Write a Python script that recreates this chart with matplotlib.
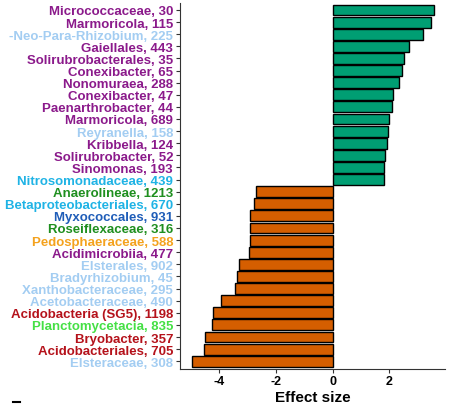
import matplotlib
matplotlib.use('Agg')
from matplotlib import pyplot as plt
from matplotlib.lines import Line2D

plt.rcParams['font.family'] = ['Liberation Sans', 'DejaVu Sans']

# taxa from top to bottom
labels = ['Micrococcaceae, 30', 'Marmoricola, 115', '-Neo-Para-Rhizobium, 225',
          'Gaiellales, 443', 'Solirubrobacterales, 35', 'Conexibacter, 65',
          'Nonomuraea, 288', 'Conexibacter, 47', 'Paenarthrobacter, 44',
          'Marmoricola, 689', 'Reyranella, 158', 'Kribbella, 124',
          'Solirubrobacter, 52', 'Sinomonas, 193', 'Nitrosomonadaceae, 439',
          'Anaerolineae, 1213', 'Betaproteobacteriales, 670', 'Myxococcales, 931',
          'Roseiflexaceae, 316', 'Pedosphaeraceae, 588', 'Acidimicrobiia, 477',
          'Elsterales, 902', 'Bradyrhizobium, 45', 'Xanthobacteraceae, 295',
          'Acetobacteraceae, 490', 'Acidobacteria (SG5), 1198', 'Planctomycetacia, 835',
          'Bryobacter, 357', 'Acidobacteriales, 705', 'Elsteraceae, 308']
effect = [3.56, 3.48, 3.19, 2.70, 2.53, 2.46, 2.33, 2.12, 2.08, 1.99, 1.94, 1.93,
          1.84, 1.82, 1.81,
          -2.72, -2.79, -2.91, -2.92, -2.93, -2.95, -3.32, -3.38, -3.46, -3.93,
          -4.21, -4.25, -4.50, -4.53, -4.96]
# phylum group of each label (sets text colour)
group = ['act', 'act', 'alpha', 'act', 'act', 'act', 'act', 'act', 'act', 'act',
         'alpha', 'act', 'act', 'act', 'beta',
         'chlor', 'beta', 'delta', 'chlor', 'verr', 'act', 'alpha', 'alpha', 'alpha',
         'alpha', 'acido', 'planc', 'acido', 'acido', 'alpha']

group_colors = {'act': '#8B1A8B', 'alpha': '#A3CDF2', 'beta': '#1FB3E5',
                'chlor': '#1F8F1F', 'delta': '#1F5DB8', 'verr': '#F4A21E',
                'acido': '#B5121B', 'planc': '#45E045'}

fig = plt.figure(figsize=(4.52, 4.06), dpi=100)
ax = fig.add_axes([180/452, 36.5/406, 265/452, 365.8/406])

n = len(labels)
ypos = list(range(n, 0, -1))
bar_cols = ['#009E73' if v > 0 else '#D55E00' for v in effect]
ax.barh(ypos, effect, height=0.9, color=bar_cols, edgecolor='black', linewidth=1.0)

ax.set_ylim(0.4, n + 0.6)
ax.set_xlim(-5.39, 3.96)
ax.set_yticks(ypos)
ax.set_yticklabels(labels, fontsize=9.5, fontweight='bold')
for t, g in zip(ax.get_yticklabels(), group):
    t.set_color(group_colors[g])
ax.set_xticks([-4, -2, 0, 2])
ax.set_xticklabels(['-4', '-2', '0', '2'], fontsize=9, fontweight='bold')
ax.set_xlabel('Effect size', fontsize=11, fontweight='bold', labelpad=2)

ax.spines['top'].set_visible(False)
ax.spines['right'].set_visible(False)
ax.spines['left'].set_color('#333333')
ax.spines['bottom'].set_color('#333333')
ax.tick_params(axis='both', length=3, width=0.8, color='#333333', pad=2)

# small stray mark at bottom-left of the original image
fig.add_artist(Line2D([13/452, 20/452], [3/406, 3/406], color='black', linewidth=1.5))

fig.savefig('out.png', dpi=100)
